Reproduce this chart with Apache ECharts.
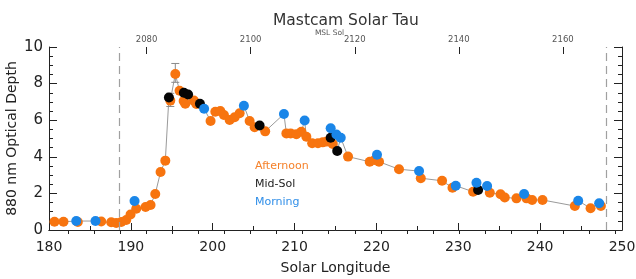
<!DOCTYPE html>
<html>
<head>
<meta charset="utf-8">
<script src="https://cdn.jsdelivr.net/npm/echarts@6/dist/echarts.min.js"></script>
<style>
  html, body { margin: 0; padding: 0; background: #fff; }
  #chart { width: 636px; height: 279px; }
</style>
</head>
<body>
<div id="chart"></div>
<script>
// == Data ====================================================================

const afternoonLs = [180.67, 181.77, 183.52, 186.38, 187.60, 188.21, 188.83, 189.44, 189.96, 190.66,
  191.80, 192.41, 192.98, 193.63, 194.21, 194.82, 195.43, 195.95, 196.45, 196.65, 197.70, 198.00,
  199.74, 200.32, 200.93, 201.37, 202.07, 202.68, 203.29, 204.51, 205.12, 206.41, 209.00, 209.52,
  210.22, 210.83, 211.44, 212.15, 212.86, 213.44, 213.92, 214.66, 216.53, 219.18, 219.79, 220.32,
  222.76, 225.42, 228.02, 229.29, 231.81, 233.85, 235.16, 235.68, 237.11, 238.34, 239.02, 240.29,
  244.24, 246.16, 247.42]
const afternoonTau = [0.45, 0.45, 0.44, 0.46, 0.42, 0.38, 0.44, 0.55, 0.85, 1.16,
  1.26, 1.37, 1.97, 3.17, 3.79, 7.07, 8.52, 7.61, 7.05, 6.9, 7.07, 6.89,
  5.96, 6.46, 6.5, 6.28, 6.01, 6.16, 6.38, 5.96, 5.61, 5.39, 5.28, 5.28,
  5.23, 5.37, 5.10, 4.74, 4.74, 4.79, 4.83, 4.70, 4.01, 3.73, 3.83, 3.73,
  3.32, 2.83, 2.69, 2.31, 2.09, 2.04, 1.95, 1.78, 1.73, 1.73, 1.64, 1.64,
  1.31, 1.19, 1.31]

const midSolLs = [194.65, 196.48, 196.99, 198.44, 205.73, 214.41, 215.21, 232.42]
const midSolTau = [7.24, 7.5, 7.40, 6.9, 5.71, 5.04, 4.32, 2.19]

const morningLs = [183.33, 185.68, 190.45, 198.95, 203.81, 208.70, 211.23, 214.41, 215.11, 215.64,
  220.07, 225.21, 229.69, 232.22, 233.52, 238.04, 244.65, 247.21]
const morningTau = [0.49, 0.49, 1.58, 6.63, 6.79, 6.34, 5.98, 5.56, 5.22, 5.04,
  4.11, 3.22, 2.42, 2.58, 2.40, 1.97, 1.60, 1.46]

const errorLs = [194.82, 195.43]
const errorLow = [6.75, 8.07]
const errorHigh = [7.47, 9.1]

const stormLs = [188.6, 248.1]

const solTicks = [2080, 2100, 2120, 2140, 2160]
const solRange = [2061.25, 2171.35]

// == Helpers =================================================================

const FONT = 'DejaVu Sans'
const AXIS_COLOR = '#222'

function pairs (xs, ys) {
  return xs.map((x, i) => [x, ys[i]])
}

function solMinorTicks () {
  let ticks = []
  for (let s = 2065; s <= solRange[1]; s += 5) ticks.push(s)
  return ticks
}

function renderErrorBar (params, api) {
  const x = api.value(0)
  const lo = api.coord([x, api.value(1)])
  const hi = api.coord([x, api.value(2)])
  const w = 4
  const style = {stroke: '#8a8a8a', lineWidth: 1}
  return {
    type: 'group',
    children: [
      {type: 'line', shape: {x1: lo[0], y1: lo[1], x2: hi[0], y2: hi[1]}, style},
      {type: 'line', shape: {x1: hi[0] - w, y1: hi[1], x2: hi[0] + w, y2: hi[1]}, style},
      {type: 'line', shape: {x1: lo[0] - w, y1: lo[1], x2: lo[0] + w, y2: lo[1]}, style}
    ]
  }
}

const allPoints = pairs(afternoonLs, afternoonTau)
  .concat(pairs(midSolLs, midSolTau))
  .concat(pairs(morningLs, morningTau))
  .sort((a, b) => a[0] - b[0])

const tickStyle = {color: AXIS_COLOR, width: 1}

// == Chart ===================================================================

const chart = echarts.init(document.getElementById('chart'))
chart.setOption({
  animation: false,
  backgroundColor: '#fff',
  textStyle: {fontFamily: FONT},
  title: {
    text: 'Mastcam Solar Tau',
    left: 268,
    top: 8,
    textStyle: {fontFamily: FONT, fontSize: 15.5, fontWeight: 'normal', color: '#333'}
  },
  legend: {
    orient: 'vertical',
    left: 245,
    top: 156,
    itemGap: 7,
    itemWidth: 0,
    itemHeight: 0,
    icon: 'none',
    selectedMode: false,
    textStyle: {fontFamily: FONT, fontSize: 11},
    data: [
      {name: 'Afternoon', textStyle: {color: '#f5812a'}},
      {name: 'Mid-Sol', textStyle: {color: '#222'}},
      {name: 'Morning', textStyle: {color: '#2f8ee8'}}
    ]
  },
  grid: {left: 49, right: 14, top: 47, bottom: 49, containLabel: false, outerBoundsMode: 'none'},
  xAxis: [
    {
      type: 'value',
      position: 'bottom',
      min: 180,
      max: 250,
      interval: 10,
      axisLine: {show: true, lineStyle: tickStyle},
      axisTick: {inside: true, length: 7, lineStyle: tickStyle},
      minorTick: {show: true, splitNumber: 2, length: 4, lineStyle: tickStyle},
      splitLine: {show: false},
      axisLabel: {fontFamily: FONT, fontSize: 14, color: AXIS_COLOR, margin: 10},
      name: 'Solar Longitude',
      nameLocation: 'middle',
      nameGap: 31,
      nameTextStyle: {fontFamily: FONT, fontSize: 14, color: AXIS_COLOR}
    },
    {
      type: 'value',
      position: 'top',
      min: solRange[0],
      max: solRange[1],
      axisLine: {show: true, lineStyle: tickStyle},
      axisTick: {inside: true, length: 4, lineStyle: tickStyle, customValues: solMinorTicks()},
      splitLine: {show: false},
      axisLabel: {
        fontFamily: FONT, fontSize: 8.5, color: '#555', margin: 3,
        customValues: solTicks,
        formatter: v => String(v)
      },
      name: 'MSL Sol',
      nameLocation: 'middle',
      nameGap: 10,
      nameMoveOverlap: false,
      nameTextStyle: {fontFamily: FONT, fontSize: 7.5, color: '#555', padding: [0, 12, 0, 0]}
    },
    {
      type: 'value',
      position: 'top',
      min: solRange[0],
      max: solRange[1],
      axisLine: {show: false},
      axisTick: {inside: true, length: 7, lineStyle: tickStyle, customValues: solTicks},
      splitLine: {show: false},
      axisLabel: {show: false}
    }
  ],
  yAxis: [
    {
      type: 'value',
      position: 'left',
      min: 0,
      max: 10,
      interval: 2,
      axisLine: {show: true, lineStyle: tickStyle},
      axisTick: {inside: true, length: 8, lineStyle: tickStyle},
      minorTick: {show: true, splitNumber: 4, length: 4, lineStyle: tickStyle},
      splitLine: {show: false},
      axisLabel: {fontFamily: FONT, fontSize: 15, color: AXIS_COLOR, margin: 6},
      name: '880 nm Optical Depth',
      nameLocation: 'middle',
      nameGap: 30,
      nameMoveOverlap: false,
      nameRotate: 90,
      nameTextStyle: {fontFamily: FONT, fontSize: 14, color: AXIS_COLOR}
    },
    {
      type: 'value',
      position: 'right',
      min: 0,
      max: 10,
      interval: 2,
      axisLine: {show: true, lineStyle: tickStyle},
      axisTick: {inside: true, length: 8, lineStyle: tickStyle},
      minorTick: {show: true, splitNumber: 4, length: 4, lineStyle: tickStyle},
      splitLine: {show: false},
      axisLabel: {show: false}
    }
  ],
  series: [
    {
      name: 'All',
      type: 'line',
      data: allPoints,
      showSymbol: false,
      silent: true,
      z: 1,
      lineStyle: {color: '#9a9a9a', width: 1},
      markLine: {
        silent: true,
        symbol: 'none',
        label: {show: false},
        lineStyle: {color: '#a0a0a0', width: 1.2, type: [8, 5]},
        data: stormLs.map(x => ({xAxis: x}))
      }
    },
    {
      name: 'Error',
      type: 'custom',
      renderItem: renderErrorBar,
      encode: {x: 0, y: [1, 2]},
      z: 2,
      data: errorLs.map((x, i) => [x, errorLow[i], errorHigh[i]])
    },
    {
      name: 'Afternoon',
      type: 'scatter',
      symbolSize: 10,
      z: 3,
      itemStyle: {color: '#f7740f', opacity: 1},
      data: pairs(afternoonLs, afternoonTau)
    },
    {
      name: 'Mid-Sol',
      type: 'scatter',
      symbolSize: 10,
      z: 4,
      itemStyle: {color: '#050505', opacity: 1},
      data: pairs(midSolLs, midSolTau)
    },
    {
      name: 'Morning',
      type: 'scatter',
      symbolSize: 10,
      z: 5,
      itemStyle: {color: '#1a86e8', opacity: 1},
      data: pairs(morningLs, morningTau)
    }
  ]
})
</script>
</body>
</html>
